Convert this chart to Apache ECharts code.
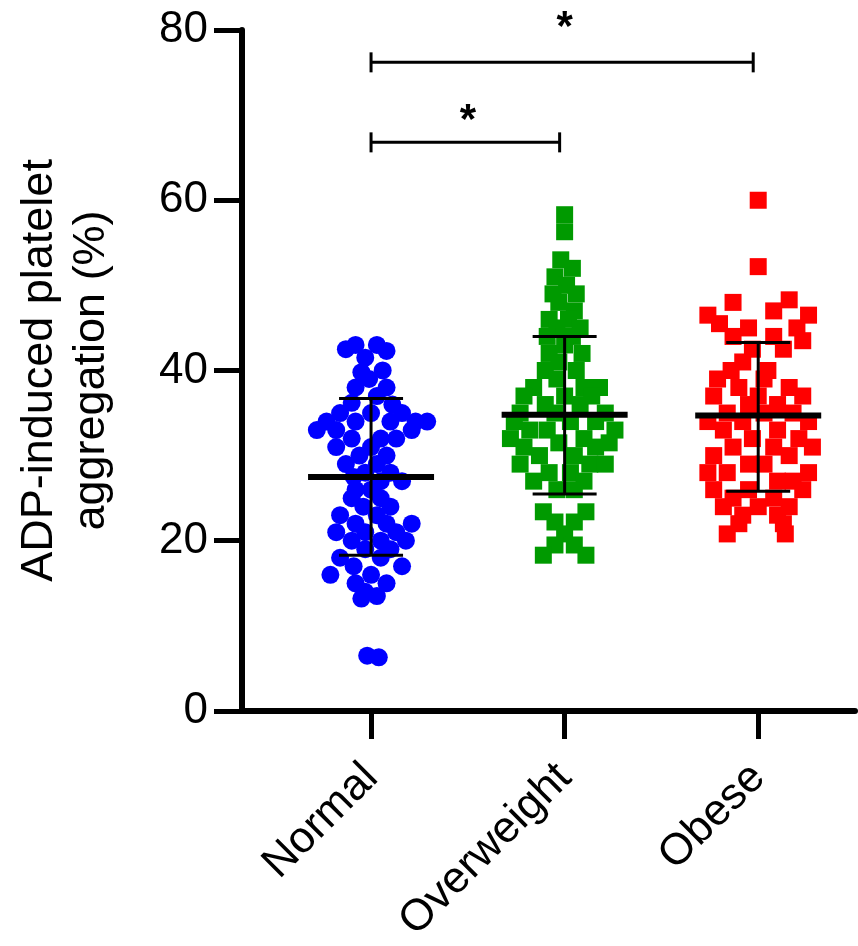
<!DOCTYPE html>
<html>
<head>
<meta charset="utf-8">
<script src="https://cdn.jsdelivr.net/npm/echarts@6/dist/echarts.min.js"></script>
<style>
html,body{margin:0;padding:0;background:#fff;}
#chart{width:858px;height:946px;}
</style>
</head>
<body>
<div id="chart"></div>
<script>
// ---- data ----
const categories = ['Normal', 'Overweight', 'Obese'];
const yTicks = [0, 20, 40, 60, 80];

// [value, horizontal jitter within group]
const normalPoints = [
  [43.0,-0.08],[43.0,0.03],[42.5,-0.13],[42.3,0.08],[41.5,-0.03],[40.0,0.06],[39.8,-0.05],[39.0,-0.01],
  [38.0,0.08],[38.0,-0.08],[37.0,0.03],[36.2,-0.10],[36.0,0.11],[35.0,-0.16],[35.0,0.00],[35.0,0.16],
  [34.0,-0.23],[34.0,-0.08],[34.0,0.10],[34.0,0.23],[34.0,0.29],[33.0,-0.28],[33.0,-0.18],[33.0,0.21],
  [32.0,-0.10],[32.0,0.05],[32.0,0.13],[31.0,-0.18],[31.0,0.00],[30.0,-0.06],[30.0,0.08],[29.0,-0.13],
  [29.0,0.03],[28.0,-0.03],[28.0,0.10],[27.5,-0.09],[27.0,0.05],[27.0,0.16],[26.0,0.00],[26.0,-0.08],
  [25.0,-0.10],[25.0,0.05],[24.0,-0.04],[24.0,0.10],[23.0,-0.16],[23.0,0.03],[22.0,-0.08],[22.0,0.08],
  [22.0,0.21],[21.0,-0.18],[21.0,-0.03],[21.0,0.13],[20.0,-0.10],[20.0,0.05],[20.0,0.18],[19.0,-0.03],
  [19.0,0.10],[18.0,-0.16],[18.0,0.05],[17.0,-0.09],[17.0,0.16],[16.0,-0.21],[16.0,0.00],[15.0,-0.08],
  [15.0,0.08],[14.0,-0.03],[13.2,-0.05],[13.5,0.03],[6.5,-0.02],[6.3,0.04]
];
const overweightPoints = [
  [58.3,0.00],[56.3,0.00],[53.0,-0.02],[52.0,0.04],[51.0,-0.05],[50.0,0.01],[49.0,0.06],[49.0,-0.06],
  [48.0,-0.03],[47.0,0.05],[46.0,-0.08],[46.0,0.02],[45.0,0.08],[45.0,-0.04],[44.0,-0.09],[44.0,0.04],
  [43.0,0.00],[42.0,-0.08],[42.0,0.09],[41.0,-0.03],[40.0,0.06],[40.0,-0.10],[39.0,-0.04],[38.0,-0.16],
  [38.0,0.10],[38.0,0.18],[37.0,-0.21],[37.0,0.00],[37.0,0.14],[36.0,-0.10],[36.0,0.08],[35.0,-0.23],
  [35.0,-0.05],[35.0,0.21],[34.0,-0.26],[34.0,0.03],[34.0,0.16],[33.0,-0.18],[33.0,-0.09],[33.0,0.26],
  [32.0,0.10],[32.0,-0.28],[31.5,0.23],[31.5,-0.03],[31.0,-0.21],[31.0,0.16],[30.0,-0.13],[30.0,0.05],
  [29.0,-0.23],[29.0,0.13],[29.0,0.21],[28.0,-0.08],[28.0,0.03],[27.0,-0.16],[27.0,0.10],[26.0,-0.04],
  [26.0,0.05],[23.4,-0.11],[23.4,0.11],[22.2,-0.05],[22.2,0.05],[20.8,0.00],[19.5,-0.05],[19.5,0.05],
  [18.3,-0.11],[18.3,0.11]
];
const obesePoints = [
  [60.0,0.00],[52.2,0.00],[48.3,0.16],[48.0,-0.13],[47.0,0.08],[46.5,-0.26],[46.5,0.26],[45.5,-0.20],
  [45.0,0.20],[45.0,-0.05],[44.0,-0.13],[44.0,0.08],[43.5,0.23],[42.5,-0.03],[42.5,0.13],[41.0,-0.08],
  [40.0,-0.14],[40.0,0.05],[39.0,0.03],[39.0,-0.21],[38.0,-0.10],[38.0,0.16],[37.0,-0.23],[37.0,0.23],
  [37.0,0.00],[36.0,-0.05],[36.0,0.10],[35.0,-0.16],[35.0,0.18],[35.0,0.03],[34.0,-0.26],[34.0,0.26],
  [34.0,-0.08],[33.0,0.10],[33.0,-0.18],[32.0,-0.03],[32.0,0.21],[31.0,-0.13],[31.0,0.08],[31.0,0.28],
  [30.0,-0.23],[30.0,0.16],[29.0,-0.05],[29.0,0.03],[28.0,-0.26],[28.0,0.26],[28.0,-0.16],[27.0,0.10],
  [27.0,0.18],[26.0,-0.23],[26.0,-0.05],[26.0,0.23],[25.0,-0.13],[25.0,0.08],[24.0,-0.18],[24.0,0.00],
  [24.0,0.16],[23.0,-0.08],[23.0,0.10],[22.0,-0.10],[22.0,0.13],[20.8,-0.16],[20.8,0.14]
];

// mean and SD per group
const means  = [27.5, 34.8, 34.7];
const sdLow  = [18.3, 25.5, 25.8];
const sdHigh = [36.7, 44.0, 43.3];

// significance brackets: [fromGroup, toGroup, height]
const brackets = [[1, 3, 76.2], [1, 2, 66.8]];
// star labels: [x, y]
const stars = [[2.0, 81.3], [1.5, 70.3]];
const starText = ['*', '*'];

// ---- chart ----
const FONT = "'Liberation Sans', Arial, sans-serif";
const chart = echarts.init(document.getElementById('chart'), null, {renderer: 'canvas'});

function toXY(points, groupIndex) {
  return points.map(p => [groupIndex + p[1], p[0]]);
}

const errData = categories.map((c, i) => [i + 1, means[i], sdLow[i], sdHigh[i]]);

const option = {
  backgroundColor: '#ffffff',
  animation: false,
  grid: {left: 242, right: 3, top: 30, bottom: 233, containLabel: false},
  xAxis: {
    type: 'value',
    min: 1/3, max: 3.5,
    splitLine: {show: false},
    axisLine: {show: true, onZero: false, lineStyle: {color: '#000', width: 6}},
    axisTick: {show: true, customValues: [1, 2, 3], length: 28, lineStyle: {color: '#000', width: 5}},
    axisLabel: {
      customValues: [1, 2, 3],
      rotate: 45, margin: 60,
      color: '#000', fontSize: 44, fontFamily: FONT,
      formatter: v => categories[Math.round(v) - 1] || ''
    }
  },
  yAxis: {
    type: 'value',
    min: 0, max: 80, interval: 20,
    splitLine: {show: false},
    axisLine: {show: true, lineStyle: {color: '#000', width: 6}},
    axisTick: {show: true, length: 28, lineStyle: {color: '#000', width: 5}},
    axisLabel: {margin: 34, color: '#000', fontSize: 44, fontFamily: FONT,
      customValues: yTicks},
    name: 'ADP-induced platelet\naggregation (%)',
    nameLocation: 'middle',
    nameRotate: 90,
    nameGap: 124,
    nameTextStyle: {color: '#000', fontSize: 45, fontFamily: FONT, lineHeight: 52}
  },
  series: [
    {
      type: 'scatter', name: 'Normal', data: toXY(normalPoints, 1),
      symbol: 'circle', symbolSize: 18, itemStyle: {color: '#0000ff', opacity: 1}, z: 2
    },
    {
      type: 'scatter', name: 'Overweight', data: toXY(overweightPoints, 2),
      symbol: 'rect', symbolSize: 17, itemStyle: {color: '#009a00', opacity: 1}, z: 2
    },
    {
      type: 'scatter', name: 'Obese', data: toXY(obesePoints, 3),
      symbol: 'rect', symbolSize: 17, itemStyle: {color: '#ff0000', opacity: 1}, z: 2
    },
    {
      type: 'custom', name: 'meanSD', data: errData, z: 5, clip: false,
      renderItem: function (params, api) {
        const x = api.value(0);
        const m = api.coord([x, api.value(1)]);
        const lo = api.coord([x, api.value(2)]);
        const hi = api.coord([x, api.value(3)]);
        return {
          type: 'group',
          children: [
            {type: 'line', shape: {x1: m[0] - 63, y1: m[1], x2: m[0] + 63, y2: m[1]}, style: {stroke: '#000', lineWidth: 6}},
            {type: 'line', shape: {x1: lo[0], y1: lo[1], x2: hi[0], y2: hi[1]}, style: {stroke: '#000', lineWidth: 3}},
            {type: 'line', shape: {x1: hi[0] - 32, y1: hi[1], x2: hi[0] + 32, y2: hi[1]}, style: {stroke: '#000', lineWidth: 3}},
            {type: 'line', shape: {x1: lo[0] - 32, y1: lo[1], x2: lo[0] + 32, y2: lo[1]}, style: {stroke: '#000', lineWidth: 3}}
          ]
        };
      }
    },
    {
      type: 'custom', name: 'brackets', data: brackets, z: 5, clip: false,
      renderItem: function (params, api) {
        const a = api.coord([api.value(0), api.value(2)]);
        const b = api.coord([api.value(1), api.value(2)]);
        return {
          type: 'group',
          children: [
            {type: 'line', shape: {x1: a[0], y1: a[1], x2: b[0] - 5, y2: b[1]}, style: {stroke: '#000', lineWidth: 3}},
            {type: 'line', shape: {x1: a[0], y1: a[1] - 10, x2: a[0], y2: a[1] + 10}, style: {stroke: '#000', lineWidth: 3}},
            {type: 'line', shape: {x1: b[0] - 5, y1: b[1] - 10, x2: b[0] - 5, y2: b[1] + 10}, style: {stroke: '#000', lineWidth: 3}}
          ]
        };
      }
    },
    {
      type: 'custom', name: 'stars', data: stars, z: 5, clip: false,
      renderItem: function (params, api) {
        const p = api.coord([api.value(0), api.value(1)]);
        return {
          type: 'text',
          style: {
            text: starText[params.dataIndex], x: p[0], y: p[1] + 9,
            align: 'center', verticalAlign: 'middle',
            font: 'bold 42px ' + FONT, fill: '#000'
          }
        };
      }
    }
  ]
};
chart.setOption(option);
</script>
</body>
</html>
